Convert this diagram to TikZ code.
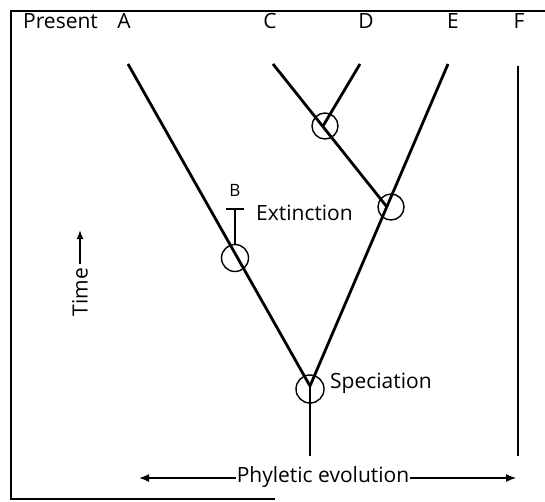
\documentclass[tikz,border=0pt]{standalone}
\usepackage{fontspec}
\setmainfont{Open Sans}
\usetikzlibrary{arrows.meta}
\begin{document}
\begin{tikzpicture}[x=1pt,y=-1pt,
 branch/.style={line width=2.8pt},
 ring/.style={circle,draw,line width=1.4pt,minimum size=26pt,inner sep=0pt},
 lbl/.style={font=\fontsize{21}{24}\selectfont,inner sep=0pt},
 framel/.style={line width=1.6pt}
]
\useasboundingbox (0,0) rectangle (545,501);
% frame
\coordinate (f1) at (545,11);
\coordinate (f2) at (11,11);
\coordinate (f3) at (11,499);
\coordinate (f4) at (275,499);
\draw[framel] (f1) -- (f2) -- (f3) -- (f4);
% labels at top
\node[lbl,anchor=west] (present) at (23,21) {Present};
\node[lbl] (A) at (124,21) {A};
\node[lbl] (C) at (270,21) {C};
\node[lbl] (D) at (366,21) {D};
\node[lbl] (E) at (453,21) {E};
\node[lbl] (F) at (519,21) {F};
% key points
\coordinate (At) at (128,64);
\coordinate (Ct) at (273,64);
\coordinate (Dt) at (360,64);
\coordinate (Et) at (448,64);
\coordinate (Ft) at (518,66);
\coordinate (Fb) at (518,456);
\coordinate (sp) at (310,386);
\coordinate (sb) at (310,456);
\coordinate (ej) at (387,207);
\coordinate (dj) at (323,126);
\coordinate (bj) at (237,258);
% branches
\draw[branch] (At) -- (sp);
\draw[branch] (Et) -- (sp);
\draw[branch] (Ct) -- (ej);
\draw[branch] (Dt) -- (dj);
\draw[branch] (sp) -- (sb);
\draw[branch] (Ft) -- (Fb);
% rings
\node[ring] (rD) at (325,126) {};
\node[ring] (rE) at (391,207) {};
\node[ring,minimum size=27pt] (rB) at (235,258) {};
\node[ring,minimum size=28pt] (rS) at (310,389) {};
% extinct branch B
\coordinate (bt) at (235,209);
\coordinate (bl) at (226,209);
\coordinate (br) at (244,209);
\draw[line width=1.6pt] (rB.north) -- (bt);
\draw[line width=1.6pt] (bl) -- (br);
\node[lbl,font=\fontsize{17}{20}\selectfont] (B) at (235,190) {B};
\node[lbl,anchor=west] (ext) at (256,213) {Extinction};
\node[lbl,anchor=west] (spec) at (330,383) {Speciation};
% time axis
\node[lbl,rotate=90] (time) at (80,292) {Time};
\coordinate (tt) at (80,230);
\draw[line width=1.6pt,-{Latex[length=9pt,width=7pt]}] (time.east) ++(0,-4) -- (tt);
% phyletic evolution
\node[lbl] (phy) at (323,477) {Phyletic evolution};
\coordinate (pl) at (139,478);
\coordinate (pr) at (516,478);
\draw[line width=1.6pt,-{Latex[length=10pt,width=8pt]}] (phy.west) ++(-1,1) -- (pl);
\draw[line width=1.2pt,-{Latex[length=10pt,width=8pt]}] (phy.east) ++(1,1) -- (pr);
\end{tikzpicture}
\end{document}
